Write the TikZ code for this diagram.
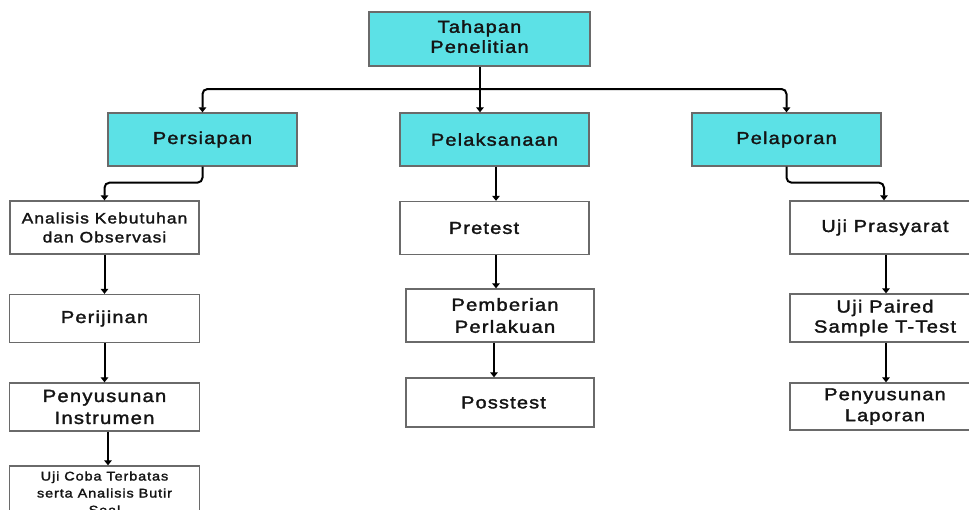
\documentclass[tikz,border=0pt]{standalone}
\usepackage{fontspec}
\setmainfont{Liberation Sans}[FakeStretch=1.15,LetterSpace=7,FakeBold=1.8]
\usetikzlibrary{arrows.meta}
\definecolor{cyanbox}{HTML}{5CE1E6}
\definecolor{boxline}{HTML}{6A6A6A}
\tikzset{
  box/.style={draw=boxline, line width=1.3pt, minimum width=189pt, minimum height=53pt, inner sep=1pt, align=center, font=\fontsize{17.3}{22}\selectfont, text=black!92},
  headbox/.style={box, fill=cyanbox},
  plainbox/.style={box, fill=white},
  conn/.style={draw=black, line width=2pt, -{Triangle[length=5pt,width=7.5pt]}},
  elbow/.style={conn, rounded corners=5pt}
}
\begin{document}
\begin{tikzpicture}[x=1pt,y=-1pt]
\useasboundingbox (0,0) rectangle (969,509);
\clip (0,0) rectangle (969,509);
\fill[white] (0,0) rectangle (969,509);
% top
\node[headbox, minimum width=221pt, minimum height=54pt, font=\fontsize{17.3}{20}\selectfont] (tah) at (479.5,39) {Tahapan\\Penelitian\rule[-5pt]{0pt}{0pt}};
\node[headbox] (pers) at (202.5,139.5) {Persiapan};
\node[headbox] (pelak) at (494.5,139.5) {Pelaksanaan};
\node[headbox] (pelap) at (786.5,139.5) {Pelaporan};
\coordinate (hub) at (480,89);
% left column
\node[plainbox, font=\fontsize{15.1}{19}\selectfont] (anal) at (104.5,227.5) {Analisis Kebutuhan\\dan Observasi};
\node[plainbox, minimum width=190pt, minimum height=48pt] (perij) at (104.5,318.5) {Perijinan};
\node[plainbox, minimum width=190pt, minimum height=48pt, font=\fontsize{17.6}{22}\selectfont] (penyi) at (104.5,407) {Penyusunan\\Instrumen};
\node[plainbox, minimum width=190pt, minimum height=54pt, font=\fontsize{12.6}{17}\selectfont] (ujic) at (104.5,493) {Uji Coba Terbatas\\serta Analisis Butir\\Soal};
% middle column
\node[plainbox] (pret) at (494.5,228) {Pretest\hspace{21pt}};
\node[plainbox, minimum width=188pt, font=\fontsize{17.5}{22}\selectfont] (pemb) at (500,315.5) {\hspace*{10pt}Pemberian\\\hspace*{10pt}Perlakuan};
\node[plainbox, minimum width=188pt, minimum height=49pt] (poss) at (500,402.5) {\hspace*{7pt}Posstest};
% right column
\node[plainbox, minimum width=190pt] (ujip) at (885,227.5) {Uji Prasyarat};
\node[plainbox, minimum width=190pt, minimum height=48pt, font=\fontsize{17.5}{20}\selectfont] (paired) at (885,318) {Uji Paired\\Sample T-Test};
\node[plainbox, minimum width=190pt, minimum height=47pt, font=\fontsize{17.3}{21}\selectfont] (lapor) at (885,406.5) {Penyusunan\\Laporan};
% connectors
\draw[line width=2pt] (tah.south -| hub) -- (hub);
\draw[conn] (hub) -- (hub |- pelak.north);
\draw[elbow] (hub) -| (pers.north);
\draw[elbow] (hub) -| (pelap.north);
\draw[elbow] (pers.south) -- ++(0,16) -| (anal.north);
\draw[conn] (anal.south) -- (perij.north);
\draw[conn] (perij.south) -- (penyi.north);
\draw[conn] ([xshift=3.5pt]penyi.south) -- ([xshift=3.5pt]ujic.north);
\draw[conn] ([xshift=1.5pt]pelak.south) -- ([xshift=1.5pt]pelak.south |- pret.north);
\draw[conn] ([xshift=1.5pt]pret.south) -- ([xshift=1.5pt]pret.south |- pemb.north);
\draw[conn] ([xshift=-6pt]pemb.south) -- ([xshift=-6pt]poss.north);
\draw[elbow] (pelap.south) -- ++(0,16) -| ([xshift=-1pt]ujip.north);
\draw[conn] ([xshift=1pt]ujip.south) -- ([xshift=1pt]paired.north);
\draw[conn] ([xshift=1pt]paired.south) -- ([xshift=1pt]lapor.north);
\end{tikzpicture}
\end{document}
